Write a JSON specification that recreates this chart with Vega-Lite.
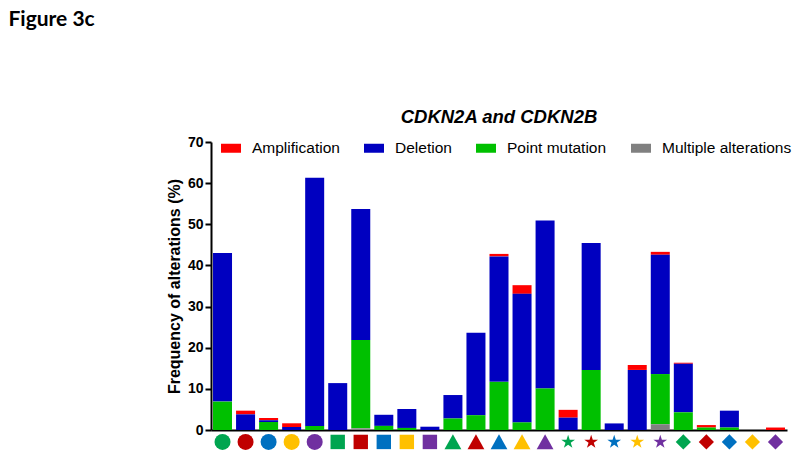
{
  "$schema": "https://vega.github.io/schema/vega-lite/v6.json",
  "padding": {"left": 8, "top": 8, "right": 5, "bottom": 5},
  "background": "white",
  "title": {"text": "Figure 3c", "anchor": "start", "font": "Lato", "fontSize": 21, "fontWeight": "bold", "color": "#000000", "dx": -158, "offset": 78},
  "datasets": {
    "bars": [
      {"id": "01", "type": "Deletion", "value": 36.1},
      {"id": "01", "type": "Point mutation", "value": 6.9},
      {"id": "02", "type": "Amplification", "value": 0.9},
      {"id": "02", "type": "Deletion", "value": 3.8},
      {"id": "03", "type": "Amplification", "value": 0.5},
      {"id": "03", "type": "Deletion", "value": 0.45},
      {"id": "03", "type": "Point mutation", "value": 1.95},
      {"id": "04", "type": "Amplification", "value": 0.9},
      {"id": "04", "type": "Deletion", "value": 0.73},
      {"id": "05", "type": "Deletion", "value": 60.3},
      {"id": "05", "type": "Point mutation", "value": 1.0},
      {"id": "06", "type": "Deletion", "value": 11.4},
      {"id": "07", "type": "Deletion", "value": 31.8},
      {"id": "07", "type": "Point mutation", "value": 21.5},
      {"id": "07", "type": "Multiple alterations", "value": 0.4},
      {"id": "08", "type": "Deletion", "value": 2.7},
      {"id": "08", "type": "Point mutation", "value": 1.0},
      {"id": "09", "type": "Deletion", "value": 4.6},
      {"id": "09", "type": "Point mutation", "value": 0.5},
      {"id": "10", "type": "Deletion", "value": 0.8},
      {"id": "11", "type": "Deletion", "value": 5.7},
      {"id": "11", "type": "Point mutation", "value": 2.8},
      {"id": "12", "type": "Deletion", "value": 20.05},
      {"id": "12", "type": "Point mutation", "value": 3.6},
      {"id": "13", "type": "Amplification", "value": 0.6},
      {"id": "13", "type": "Deletion", "value": 30.5},
      {"id": "13", "type": "Point mutation", "value": 11.7},
      {"id": "14", "type": "Amplification", "value": 2.1},
      {"id": "14", "type": "Deletion", "value": 31.25},
      {"id": "14", "type": "Point mutation", "value": 1.85},
      {"id": "15", "type": "Deletion", "value": 40.8},
      {"id": "15", "type": "Point mutation", "value": 10.1},
      {"id": "16", "type": "Amplification", "value": 1.9},
      {"id": "16", "type": "Deletion", "value": 3.0},
      {"id": "17", "type": "Deletion", "value": 30.85},
      {"id": "17", "type": "Point mutation", "value": 14.6},
      {"id": "18", "type": "Deletion", "value": 1.6},
      {"id": "19", "type": "Amplification", "value": 1.2},
      {"id": "19", "type": "Deletion", "value": 14.6},
      {"id": "20", "type": "Amplification", "value": 0.7},
      {"id": "20", "type": "Deletion", "value": 29.0},
      {"id": "20", "type": "Point mutation", "value": 12.2},
      {"id": "20", "type": "Multiple alterations", "value": 1.4},
      {"id": "21", "type": "Amplification", "value": 0.25},
      {"id": "21", "type": "Deletion", "value": 11.8},
      {"id": "21", "type": "Point mutation", "value": 4.3},
      {"id": "22", "type": "Amplification", "value": 0.6},
      {"id": "22", "type": "Point mutation", "value": 0.6},
      {"id": "23", "type": "Deletion", "value": 4.1},
      {"id": "23", "type": "Point mutation", "value": 0.6},
      {"id": "25", "type": "Amplification", "value": 0.6}
    ],
    "stacking": [
      {"type": "Multiple alterations", "rank": 1},
      {"type": "Point mutation", "rank": 2},
      {"type": "Deletion", "rank": 3},
      {"type": "Amplification", "rank": 4}
    ],
    "cats": [
      {"id": "01", "shape": "circle", "tone": "green"},
      {"id": "02", "shape": "circle", "tone": "red"},
      {"id": "03", "shape": "circle", "tone": "blue"},
      {"id": "04", "shape": "circle", "tone": "yellow"},
      {"id": "05", "shape": "circle", "tone": "purple"},
      {"id": "06", "shape": "square", "tone": "green"},
      {"id": "07", "shape": "square", "tone": "red"},
      {"id": "08", "shape": "square", "tone": "blue"},
      {"id": "09", "shape": "square", "tone": "yellow"},
      {"id": "10", "shape": "square", "tone": "purple"},
      {"id": "11", "shape": "triangle", "tone": "green"},
      {"id": "12", "shape": "triangle", "tone": "red"},
      {"id": "13", "shape": "triangle", "tone": "blue"},
      {"id": "14", "shape": "triangle", "tone": "yellow"},
      {"id": "15", "shape": "triangle", "tone": "purple"},
      {"id": "16", "shape": "star", "tone": "green"},
      {"id": "17", "shape": "star", "tone": "red"},
      {"id": "18", "shape": "star", "tone": "blue"},
      {"id": "19", "shape": "star", "tone": "yellow"},
      {"id": "20", "shape": "star", "tone": "purple"},
      {"id": "21", "shape": "diamond", "tone": "green"},
      {"id": "22", "shape": "diamond", "tone": "red"},
      {"id": "23", "shape": "diamond", "tone": "blue"},
      {"id": "24", "shape": "diamond", "tone": "yellow"},
      {"id": "25", "shape": "diamond", "tone": "purple"}
    ]
  },
  "vconcat": [
    {
      "width": 576,
      "height": 288,
      "title": {"text": "CDKN2A and CDKN2B", "font": "Liberation Sans", "fontSize": 18.5, "fontWeight": "bold", "fontStyle": "italic", "color": "#000000", "offset": 9},
      "layer": [
        {
          "data": {"name": "bars"},
          "transform": [{"lookup": "type", "from": {"data": {"name": "stacking"}, "key": "type", "fields": ["rank"]}}],
          "mark": {"type": "bar"},
          "encoding": {
            "x": {"field": "id", "type": "nominal", "scale": {"paddingInner": 0.175, "paddingOuter": 0.0875},
                  "axis": {"labels": false, "ticks": false, "title": null, "domainColor": "#000000", "domainWidth": 2}},
            "y": {"field": "value", "type": "quantitative", "stack": "zero",
                  "scale": {"domain": [0, 70], "nice": false},
                  "axis": {"values": [0, 10, 20, 30, 40, 50, 60, 70], "title": "Frequency of alterations (%)", "grid": false}},
            "order": {"field": "rank", "type": "quantitative"},
            "color": {"field": "type", "type": "nominal",
                      "scale": {"domain": ["Amplification", "Deletion", "Point mutation", "Multiple alterations"], "range": ["#FF0000", "#0000C0", "#00C000", "#808080"]},
                      "legend": {"orient": "none", "legendX": 10, "legendY": -4, "direction": "horizontal", "columns": 4, "title": null,
                                 "symbolType": "M-1,-0.45L1,-0.45L1,0.45L-1,0.45Z", "symbolSize": 400, "symbolStrokeWidth": 0,
                                 "labelFont": "Liberation Sans", "labelFontSize": 15.5, "labelColor": "#000000", "labelOffset": 11, "columnPadding": 24}}
          }
        },
        {
          "data": {"name": "cats"},
          "mark": {"type": "point", "filled": true, "size": 256, "opacity": 1, "strokeWidth": 0},
          "encoding": {
            "x": {"field": "id", "type": "nominal"},
            "y": {"datum": -2.9, "type": "quantitative"},
            "shape": {"field": "shape", "type": "nominal", "legend": null,
                      "scale": {"domain": ["circle", "square", "triangle", "star", "diamond"],
                                "range": ["circle", "M-0.9,-0.9L0.9,-0.9L0.9,0.9L-0.9,0.9Z", "M0,-0.95L1.05,0.9L-1.05,0.9Z",
                                          "M0,-0.9L0.202,-0.278L0.856,-0.278L0.327,0.106L0.529,0.728L0,0.344L-0.529,0.728L-0.327,0.106L-0.856,-0.278L-0.202,-0.278Z",
                                          "M0,-0.95L0.95,0L0,0.95L-0.95,0Z"]}},
            "fill": {"field": "tone", "type": "nominal", "legend": null,
                     "scale": {"domain": ["green", "red", "blue", "yellow", "purple"], "range": ["#00A550", "#C00000", "#0070C0", "#FFC000", "#7030A0"]}}
          }
        }
      ]
    }
  ],
  "config": {
    "view": {"stroke": null},
    "axis": {"domainColor": "#000000", "domainWidth": 2, "tickColor": "#000000", "tickWidth": 2, "tickSize": 6,
             "labelFont": "Liberation Sans", "labelFontWeight": "bold", "labelFontSize": 14, "labelColor": "#000000", "labelPadding": 2,
             "titleFont": "Liberation Sans", "titleFontSize": 16, "titleFontWeight": "bold", "titleColor": "#000000", "titlePadding": 5}
  }
}
